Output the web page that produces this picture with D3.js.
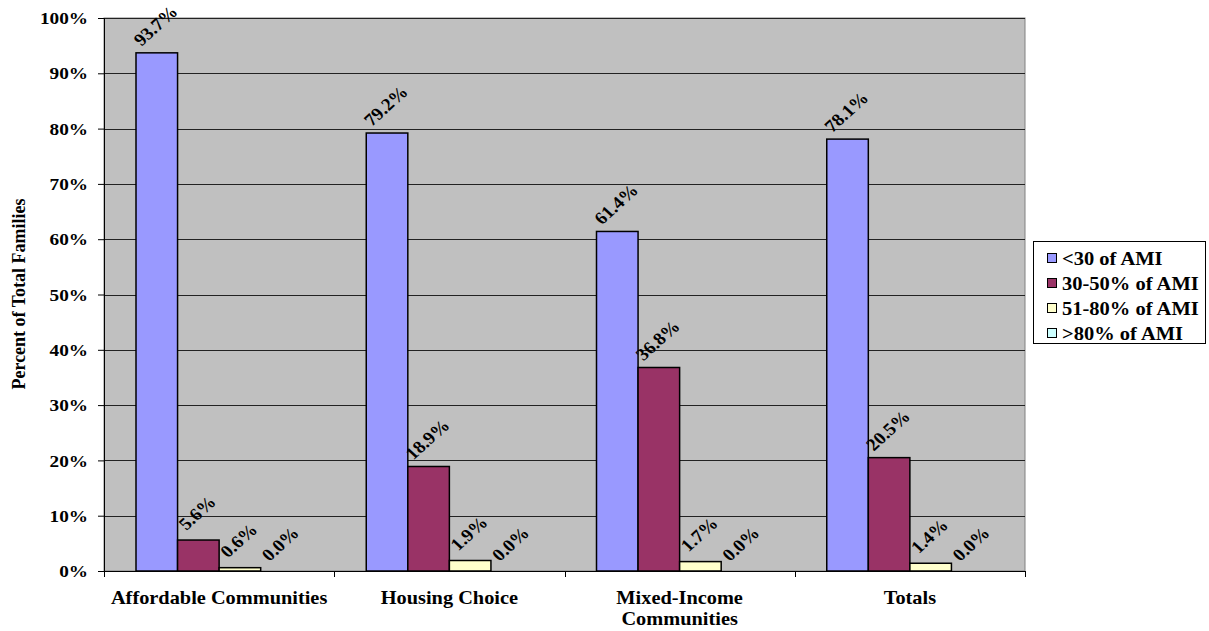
<!DOCTYPE html>
<html>
<head>
<meta charset="utf-8">
<script src="https://cdn.jsdelivr.net/npm/d3@7"></script>
<style>
  html, body { margin: 0; padding: 0; background: #fff; }
  svg text { font-family: "Liberation Serif", "Times New Roman", serif; font-weight: bold; fill: #000; }
</style>
</head>
<body>
<svg id="chart" width="1209" height="631"></svg>
<script>
// Income bands of families by program
const categories = ["Affordable Communities", "Housing Choice", "Mixed-Income Communities", "Totals"];
const categoryLines = [["Affordable Communities"], ["Housing Choice"], ["Mixed-Income", "Communities"], ["Totals"]];
const seriesNames = ["<30 of AMI", "30-50% of AMI", "51-80% of AMI", ">80% of AMI"];
const seriesColors = ["#9999FF", "#993366", "#FFFFCC", "#CCFFFF"];
const below30 = [93.7, 79.2, 61.4, 78.1];
const from30to50 = [5.6, 18.9, 36.8, 20.5];
const from51to80 = [0.6, 1.9, 1.7, 1.4];
const above80 = [0.0, 0.0, 0.0, 0.0];
const yTicks = [0, 10, 20, 30, 40, 50, 60, 70, 80, 90, 100];

const seriesValues = [below30, from30to50, from51to80, above80];

// text is drawn slightly wide
const SX = 1.1;

const svg = d3.select("#chart");
const plot = { left: 104, right: 1025, top: 18, bottom: 571 };

const x0 = d3.scaleBand().domain(categories).range([plot.left, plot.right]).paddingInner(0).paddingOuter(0);
const x1 = d3.scaleBand().domain(seriesNames).range([0, x0.bandwidth()]).paddingOuter(0.77).paddingInner(0);
const y = d3.scaleLinear().domain([0, 100]).range([plot.bottom, plot.top]);

// plot background
svg.append("rect")
  .attr("x", plot.left).attr("y", plot.top)
  .attr("width", plot.right - plot.left).attr("height", plot.bottom - plot.top)
  .attr("fill", "#C0C0C0").attr("stroke", "#808080").attr("stroke-width", 1);

// horizontal gridlines
svg.append("g").selectAll("line").data(yTicks.filter(t => t > 0)).join("line")
  .attr("x1", plot.left).attr("x2", plot.right)
  .attr("y1", d => Math.round(y(d)) + 0.5).attr("y2", d => Math.round(y(d)) + 0.5)
  .attr("stroke", "#222").attr("stroke-width", 1);

// y axis
const yAxis = d3.axisLeft(y).tickValues(yTicks).tickFormat(d => d + "%").tickSize(6).tickPadding(9);
const gy = svg.append("g").attr("transform", `translate(${plot.left},0)`).call(yAxis);
gy.select(".domain").attr("stroke", "#000");
gy.selectAll(".tick line").attr("stroke", "#000");
gy.selectAll(".tick text")
  .style("font-size", "17.5px")
  .attr("x", -16 / SX)
  .attr("transform", `scale(${SX},1)`);

// x axis line and category separators
svg.append("line").attr("x1", plot.left).attr("x2", plot.right)
  .attr("y1", plot.bottom + 0.5).attr("y2", plot.bottom + 0.5).attr("stroke", "#000");
const sepX = categories.map(c => x0(c)).concat([plot.right]);
svg.append("g").selectAll("line").data(sepX).join("line")
  .attr("x1", d => Math.round(d) + 0.5).attr("x2", d => Math.round(d) + 0.5)
  .attr("y1", plot.bottom).attr("y2", plot.bottom + 6).attr("stroke", "#000");

// category labels
svg.append("g").selectAll("g").data(categories).join("g")
  .attr("transform", c => `translate(${x0(c) + x0.bandwidth() / 2},604) scale(${SX},1)`)
  .each(function (c, i) {
    const t = d3.select(this).append("text")
      .attr("text-anchor", "middle")
      .style("font-size", "18.5px");
    categoryLines[i].forEach((line, j) => {
      t.append("tspan").attr("x", 0).attr("y", j * 21).text(line);
    });
  });

// bars and value labels
const groups = svg.append("g").selectAll("g").data(categories).join("g")
  .attr("transform", c => `translate(${x0(c)},0)`);

groups.each(function (c, ci) {
  const g = d3.select(this);
  seriesNames.forEach((s, si) => {
    const v = seriesValues[si][ci];
    g.append("rect")
      .attr("x", x1(s)).attr("width", x1.bandwidth())
      .attr("y", y(v)).attr("height", Math.max(0, y(0) - y(v)))
      .attr("fill", seriesColors[si]).attr("stroke", "#000").attr("stroke-width", 1.5);
    const cx = x1(s) + x1.bandwidth() / 2 - 1;
    const cy = y(v) - 27;
    g.append("text")
      .attr("transform", `translate(${cx},${cy}) scale(${SX},1) rotate(-45)`)
      .attr("text-anchor", "middle").attr("dominant-baseline", "central")
      .style("font-size", "17.5px")
      .text(v.toFixed(1) + "%");
  });
});

// y axis title
svg.append("text")
  .attr("transform", `translate(18,294) scale(${SX},1) rotate(-90)`)
  .attr("text-anchor", "middle").attr("dominant-baseline", "central")
  .style("font-size", "18px")
  .text("Percent of Total Families");

// legend
const lg = svg.append("g").attr("transform", "translate(1033,241)");
lg.append("rect").attr("x", 0.5).attr("y", 0.5).attr("width", 172).attr("height", 102)
  .attr("fill", "#fff").attr("stroke", "#000");
seriesNames.forEach((s, i) => {
  const yy = 17 + i * 25;
  lg.append("rect").attr("x", 14.5).attr("y", yy - 4.5).attr("width", 9).attr("height", 9)
    .attr("fill", seriesColors[i]).attr("stroke", "#000");
  lg.append("text")
    .attr("transform", `translate(29,${yy}) scale(1.08,1)`)
    .attr("dominant-baseline", "central")
    .style("font-size", "19px").text(s);
});
</script>
</body>
</html>
